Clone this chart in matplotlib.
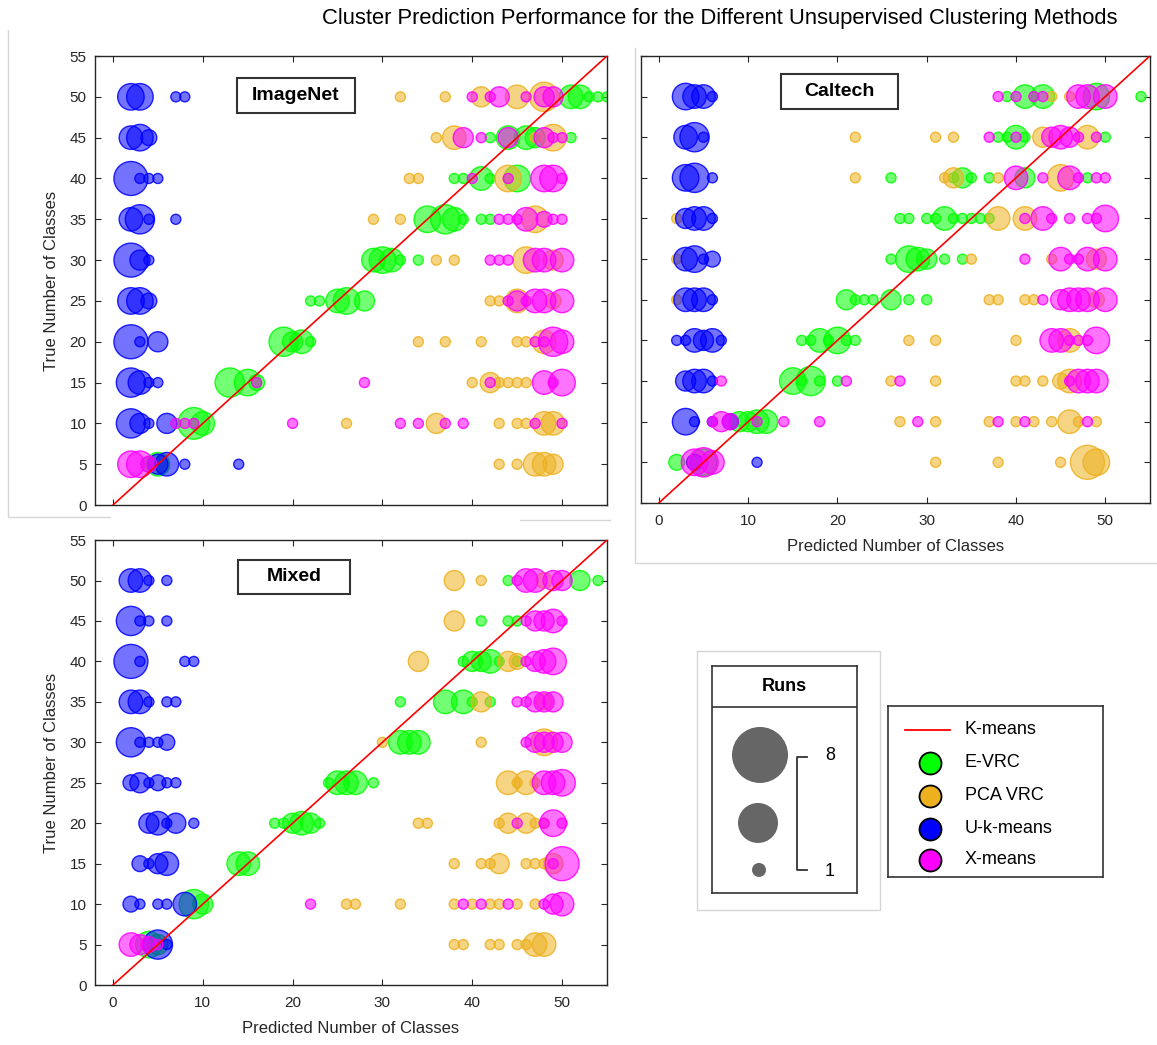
import numpy as np
import matplotlib
matplotlib.use('Agg')
import matplotlib.pyplot as plt
from matplotlib.patches import Rectangle
from matplotlib.lines import Line2D
from matplotlib.colors import to_rgba

plt.rcParams['font.family'] = ['Liberation Sans', 'DejaVu Sans']

# Datos: (clases reales, clases predichas, corridas)
imagenet_evrc = [(5, 4, 2), (5, 5, 4), (10, 9, 7), (10, 10, 4),
                 (15, 13, 6), (15, 15, 5), (15, 16, 2),
                 (20, 19, 6), (20, 20, 3), (20, 21, 4), (20, 22, 1),
                 (25, 22, 1), (25, 23, 1), (25, 25, 4), (25, 26, 5), (25, 28, 3),
                 (30, 29, 4), (30, 30, 5), (30, 31, 4), (30, 32, 1), (30, 34, 1),
                 (35, 35, 5), (35, 37, 6), (35, 38, 4), (35, 39, 1), (35, 41, 1), (35, 42, 1),
                 (40, 38, 1), (40, 39, 1), (40, 41, 4), (40, 42, 1), (40, 45, 5),
                 (45, 42, 1), (45, 44, 4), (45, 46, 4), (45, 47, 3), (45, 51, 1),
                 (50, 51, 4), (50, 52, 4), (50, 53, 1), (50, 54, 1), (50, 55, 1)]
imagenet_pca = [(5, 43, 1), (5, 45, 1), (5, 47, 4), (5, 48, 4), (5, 49, 3),
                (10, 26, 1), (10, 36, 3), (10, 43, 1), (10, 45, 1), (10, 46, 1), (10, 48, 4), (10, 49, 4),
                (15, 40, 1), (15, 42, 3), (15, 43, 1), (15, 44, 1), (15, 45, 1), (15, 46, 1),
                (20, 34, 1), (20, 37, 1), (20, 41, 1), (20, 45, 1), (20, 46, 1), (20, 48, 4),
                (25, 42, 1), (25, 43, 1), (25, 45, 4), (25, 49, 2),
                (30, 36, 1), (30, 38, 1), (30, 46, 5), (30, 49, 3),
                (35, 29, 1), (35, 32, 1), (35, 47, 5),
                (40, 33, 1), (40, 34, 1), (40, 44, 5),
                (45, 36, 1), (45, 38, 4), (45, 47, 1), (45, 49, 5),
                (50, 32, 1), (50, 37, 1), (50, 41, 3), (50, 45, 4), (50, 48, 6)]
imagenet_ukm = [(5, 5, 3), (5, 6, 4), (5, 8, 1), (5, 14, 1),
                (10, 2, 6), (10, 3, 3), (10, 4, 1), (10, 6, 3),
                (15, 2, 6), (15, 3, 4), (15, 4, 1), (15, 5, 1),
                (20, 2, 8), (20, 3, 1), (20, 5, 3),
                (25, 2, 5), (25, 3, 5), (25, 4, 2),
                (30, 2, 8), (30, 3, 3), (30, 4, 1),
                (35, 2, 4), (35, 3, 6), (35, 4, 1), (35, 7, 1),
                (40, 2, 8), (40, 3, 1), (40, 4, 1), (40, 5, 1),
                (45, 2, 4), (45, 3, 5), (45, 4, 2),
                (50, 2, 5), (50, 3, 5), (50, 7, 1), (50, 8, 1)]
imagenet_xm = [(5, 2, 5), (5, 3, 5), (5, 4, 2),
               (10, 7, 1), (10, 8, 1), (10, 9, 1), (10, 20, 1), (10, 32, 1), (10, 34, 1),
               (10, 37, 1), (10, 39, 1), (10, 47, 1), (10, 50, 1),
               (15, 16, 1), (15, 28, 1), (15, 42, 1), (15, 48, 4), (15, 49, 1), (15, 50, 5),
               (20, 47, 1), (20, 48, 1), (20, 49, 6), (20, 50, 4),
               (25, 44, 1), (25, 45, 3), (25, 46, 1), (25, 47, 4), (25, 48, 4), (25, 50, 4),
               (30, 42, 1), (30, 43, 1), (30, 44, 1), (30, 47, 4), (30, 48, 4), (30, 50, 4),
               (35, 43, 1), (35, 44, 1), (35, 45, 1), (35, 46, 4), (35, 48, 2), (35, 49, 1), (35, 50, 1),
               (40, 40, 1), (40, 44, 1), (40, 48, 5), (40, 49, 5), (40, 50, 1),
               (45, 39, 3), (45, 41, 1), (45, 44, 3), (45, 48, 3), (45, 49, 1), (45, 50, 1),
               (50, 40, 1), (50, 42, 1), (50, 43, 3), (50, 46, 1), (50, 48, 3), (50, 49, 3)]

caltech_evrc = [(5, 2, 2), (5, 5, 5),
                (10, 9, 3), (10, 10, 3), (10, 11, 4), (10, 12, 4),
                (15, 15, 5), (15, 16, 1), (15, 17, 6), (15, 18, 1), (15, 20, 1),
                (20, 16, 1), (20, 17, 1), (20, 18, 4), (20, 19, 1), (20, 20, 5), (20, 21, 1), (20, 22, 1),
                (25, 21, 3), (25, 22, 1), (25, 23, 1), (25, 24, 1), (25, 26, 3), (25, 28, 1), (25, 30, 1),
                (30, 26, 1), (30, 28, 5), (30, 29, 4), (30, 30, 3), (30, 32, 1), (30, 34, 1),
                (35, 27, 1), (35, 28, 1), (35, 30, 1), (35, 31, 1), (35, 32, 4), (35, 33, 1),
                (35, 34, 1), (35, 35, 1), (35, 36, 1), (35, 37, 1),
                (40, 26, 1), (40, 33, 1), (40, 34, 3), (40, 35, 1), (40, 37, 1), (40, 41, 3), (40, 48, 1),
                (45, 38, 1), (45, 39, 1), (45, 40, 4), (45, 41, 1), (45, 50, 1),
                (50, 39, 1), (50, 41, 4), (50, 43, 4), (50, 49, 5), (50, 54, 1)]
caltech_pca = [(5, 31, 1), (5, 38, 1), (5, 45, 1), (5, 48, 8), (5, 49, 5),
               (10, 27, 1), (10, 31, 1), (10, 37, 1), (10, 40, 1), (10, 42, 1), (10, 44, 1),
               (10, 46, 4), (10, 47, 1), (10, 49, 1),
               (15, 26, 1), (15, 31, 1), (15, 40, 1), (15, 41, 1), (15, 43, 1), (15, 45, 2), (15, 46, 4),
               (20, 28, 1), (20, 31, 1), (20, 40, 1), (20, 46, 4),
               (25, 2, 1), (25, 37, 1), (25, 38, 1), (25, 41, 1), (25, 42, 1), (25, 49, 2),
               (30, 2, 1), (30, 35, 1), (30, 44, 1), (30, 49, 3),
               (35, 2, 1), (35, 38, 4), (35, 41, 4),
               (40, 22, 1), (40, 32, 1), (40, 33, 3), (40, 38, 1), (40, 45, 5),
               (45, 22, 1), (45, 31, 1), (45, 33, 1), (45, 43, 3), (45, 48, 4),
               (50, 44, 1), (50, 46, 1)]
caltech_ukm = [(5, 4, 2), (5, 11, 1),
               (10, 3, 5), (10, 4, 1), (10, 6, 1), (10, 8, 2),
               (15, 3, 3), (15, 4, 4), (15, 5, 4), (15, 6, 1),
               (20, 2, 1), (20, 3, 1), (20, 4, 4), (20, 5, 3), (20, 6, 4), (20, 7, 1),
               (25, 3, 4), (25, 4, 4), (25, 5, 4), (25, 6, 1),
               (30, 3, 4), (30, 4, 5), (30, 5, 1), (30, 6, 2),
               (35, 3, 3), (35, 4, 4), (35, 5, 4), (35, 6, 1),
               (40, 3, 5), (40, 4, 6), (40, 6, 1),
               (45, 3, 4), (45, 4, 6), (45, 5, 1),
               (50, 3, 5), (50, 4, 4), (50, 5, 4), (50, 6, 1)]
caltech_xm = [(5, 4, 5), (5, 5, 6), (5, 6, 4),
              (10, 6, 1), (10, 7, 3), (10, 8, 2), (10, 11, 1), (10, 14, 1), (10, 18, 1),
              (10, 29, 1), (10, 38, 1), (10, 41, 1), (10, 48, 1),
              (15, 7, 1), (15, 21, 1), (15, 27, 1), (15, 46, 1), (15, 47, 4), (15, 48, 4), (15, 49, 4),
              (20, 44, 4), (20, 45, 4), (20, 46, 1), (20, 47, 1), (20, 48, 1), (20, 49, 5),
              (25, 43, 1), (25, 45, 3), (25, 46, 4), (25, 47, 4), (25, 48, 4), (25, 50, 4),
              (30, 41, 1), (30, 45, 4), (30, 46, 1), (30, 47, 1), (30, 48, 4), (30, 50, 4),
              (35, 41, 1), (35, 43, 4), (35, 44, 1), (35, 46, 1), (35, 48, 1), (35, 49, 1), (35, 50, 5),
              (40, 40, 4), (40, 43, 1), (40, 46, 4), (40, 47, 1), (40, 49, 1), (40, 50, 1),
              (45, 37, 1), (45, 40, 1), (45, 44, 3), (45, 45, 4), (45, 46, 3), (45, 47, 1), (45, 49, 1),
              (50, 38, 1), (50, 40, 1), (50, 42, 1), (50, 43, 1), (50, 47, 4), (50, 48, 4), (50, 50, 4)]

mixed_evrc = [(5, 4, 5), (5, 5, 3), (10, 9, 6), (10, 10, 3), (15, 14, 4), (15, 15, 4),
              (20, 18, 1), (20, 19, 1), (20, 20, 3), (20, 21, 4), (20, 22, 3), (20, 23, 1),
              (25, 24, 1), (25, 25, 4), (25, 26, 4), (25, 27, 4), (25, 29, 1),
              (30, 32, 4), (30, 33, 4), (30, 34, 4),
              (35, 32, 1), (35, 37, 4), (35, 39, 4), (35, 40, 1), (35, 42, 1),
              (40, 39, 1), (40, 40, 3), (40, 41, 3), (40, 42, 4), (40, 43, 1), (40, 45, 1),
              (45, 41, 1), (45, 44, 1), (45, 45, 1),
              (50, 44, 1), (50, 52, 3), (50, 54, 1)]
mixed_pca = [(5, 38, 1), (5, 39, 1), (5, 42, 1), (5, 43, 1), (5, 45, 1), (5, 46, 1), (5, 47, 4), (5, 48, 4),
             (10, 26, 1), (10, 27, 1), (10, 32, 1), (10, 38, 1), (10, 40, 1), (10, 42, 1),
             (10, 43, 1), (10, 45, 1), (10, 47, 1),
             (15, 38, 1), (15, 41, 1), (15, 42, 1), (15, 43, 3), (15, 46, 1), (15, 47, 1), (15, 48, 1), (15, 49, 3),
             (20, 34, 1), (20, 35, 1), (20, 43, 1), (20, 44, 3), (20, 46, 3), (20, 47, 1), (20, 48, 1),
             (25, 44, 4), (25, 45, 1), (25, 46, 4), (25, 47, 1),
             (30, 30, 1), (30, 41, 1), (30, 48, 5),
             (35, 41, 3), (35, 48, 2),
             (40, 34, 3), (40, 44, 3), (40, 45, 2),
             (45, 38, 3),
             (50, 38, 3), (50, 41, 1), (50, 48, 2)]
mixed_ukm = [(5, 5, 6), (5, 6, 1),
             (10, 2, 2), (10, 3, 1), (10, 5, 1), (10, 6, 1), (10, 8, 4),
             (15, 3, 2), (15, 4, 1), (15, 5, 3), (15, 6, 4),
             (20, 4, 3), (20, 5, 4), (20, 6, 1), (20, 7, 3), (20, 9, 1),
             (25, 2, 2), (25, 3, 3), (25, 4, 1), (25, 5, 2), (25, 6, 1), (25, 7, 1),
             (30, 2, 6), (30, 3, 1), (30, 4, 1), (30, 5, 1), (30, 6, 2),
             (35, 2, 4), (35, 3, 4), (35, 4, 1), (35, 6, 1), (35, 7, 1),
             (40, 2, 8), (40, 3, 1), (40, 8, 1), (40, 9, 1),
             (45, 2, 6), (45, 3, 1), (45, 4, 1), (45, 6, 1),
             (50, 2, 4), (50, 3, 4), (50, 4, 1), (50, 6, 1)]
mixed_xm = [(5, 2, 4), (5, 3, 3), (5, 4, 2), (5, 5, 1),
            (10, 22, 1), (10, 39, 1), (10, 41, 1), (10, 44, 1), (10, 48, 1), (10, 49, 3), (10, 50, 4),
            (15, 49, 1), (15, 50, 8),
            (20, 45, 1), (20, 48, 1), (20, 49, 5), (20, 50, 1),
            (25, 48, 4), (25, 49, 4), (25, 50, 5),
            (30, 46, 1), (30, 47, 3), (30, 48, 3), (30, 49, 3), (30, 50, 3),
            (35, 45, 1), (35, 46, 1), (35, 47, 3), (35, 48, 3), (35, 49, 3),
            (40, 46, 1), (40, 47, 3), (40, 48, 4), (40, 49, 5),
            (45, 46, 1), (45, 47, 3), (45, 48, 3), (45, 49, 4), (45, 50, 1),
            (50, 45, 1), (50, 46, 4), (50, 47, 4), (50, 49, 3), (50, 50, 3)]

metodos = ['E-VRC', 'PCA VRC', 'U-k-means', 'X-means']
colores = ['#00ff00', '#edb120', '#0000ff', '#ff00ff']
gris = '#262626'


# Area del marcador proporcional al numero de corridas
def tam(runs):
    return 52 + 78 * (np.asarray(runs) - 1)


def panel(ax, series, nombre, caja, xlab=True, ylab=True):
    for datos, color in zip(series, colores):
        d = np.array(datos)
        ax.scatter(d[:, 1], d[:, 0], s=tam(d[:, 2]), facecolors=to_rgba(color, 0.55),
                   edgecolors=to_rgba(color, 0.85), linewidths=1, zorder=2)
    ax.plot([0, 55], [0, 55], color='red', lw=1.2, zorder=3)
    ax.set_xlim(-2, 55)
    ax.set_ylim(0, 55)
    ax.set_xticks(range(0, 51, 10))
    ax.set_yticks(range(0, 56, 5))
    ax.tick_params(direction='in', top=True, right=True, length=4, colors=gris,
                   labelsize=11, labelbottom=xlab, labelleft=ylab)
    ax.tick_params(axis='x', pad=8)
    ax.tick_params(axis='y', pad=6)
    for s in ax.spines.values():
        s.set_color(gris)
        s.set_linewidth(1)
    if xlab:
        ax.set_xlabel('Predicted Number of Classes', fontsize=12, color=gris, labelpad=8)
    if ylab:
        ax.set_ylabel('True Number of Classes', fontsize=12, color=gris, labelpad=8)
    x0, y0, w, h = caja
    ax.add_patch(Rectangle((x0, y0), w, h, transform=ax.transAxes, fill=True,
                           facecolor='white', edgecolor='#333333', lw=1.5, zorder=4))
    ax.text(x0 + w / 2, y0 + h / 2, nombre, transform=ax.transAxes, ha='center',
            va='center', fontsize=14, fontweight='bold', zorder=5)


fig = plt.figure(figsize=(11.57, 10.45), dpi=100)


# Bordes tenues de las capturas originales (pixeles de la figura)
def borde(xs, ys):
    fig.add_artist(Line2D([x / 1157 for x in xs], [1 - y / 1045 for y in ys],
                          color='#d6d6d6', lw=1))


borde([8, 8, 110], [30, 517, 517])
borde([520, 610], [520, 520])
borde([635, 635, 1157], [48, 563, 563])
borde([697, 697, 880, 880, 697], [651, 910, 910, 651, 651])

ax1 = fig.add_axes([0.0821, 0.5167, 0.4425, 0.4297])
panel(ax1, [imagenet_evrc, imagenet_pca, imagenet_ukm, imagenet_xm], 'ImageNet',
      (0.277, 0.873, 0.230, 0.078), xlab=False)

ax2 = fig.add_axes([0.554, 0.5187, 0.4399, 0.4278])
panel(ax2, [caltech_evrc, caltech_pca, caltech_ukm, caltech_xm], 'Caltech',
      (0.275, 0.881, 0.230, 0.078), ylab=False)

ax3 = fig.add_axes([0.0821, 0.0574, 0.4425, 0.4258])
panel(ax3, [mixed_evrc, mixed_pca, mixed_ukm, mixed_xm], 'Mixed',
      (0.279, 0.879, 0.219, 0.076))

fig.text(0.622, 0.982, 'Cluster Prediction Performance for the Different Unsupervised Clustering Methods',
         ha='center', va='center', fontsize=15.8)

# Leyenda de tamanos (coordenadas en pixeles dentro del recuadro)
axr = fig.add_axes([0.6154, 0.1455, 0.1253, 0.2172])
axr.set_xlim(0, 145)
axr.set_ylim(227, 0)
axr.set_xticks([])
axr.set_yticks([])
for s in axr.spines.values():
    s.set_color('#333333')
    s.set_linewidth(1.2)
axr.axhline(41, color='#333333', lw=1.2)
axr.text(72, 21, 'Runs', ha='center', va='center', fontsize=13, fontweight='bold')
runs_x = [48, 46, 47]
runs_y = [89, 157, 204]
runs_d = [56, 40, 14]
axr.scatter(runs_x, runs_y, s=[(d * 0.72) ** 2 for d in runs_d], color='#5e5e5e', alpha=0.95, lw=0)
axr.plot([95, 85, 85, 95], [91, 91, 204, 204], color='#333333', lw=1.3)
axr.text(118, 90, '8', ha='center', va='center', fontsize=13)
axr.text(118, 206, '1', ha='center', va='center', fontsize=13)

# Leyenda de metodos
axl = fig.add_axes([0.7675, 0.1608, 0.1858, 0.1636])
axl.set_xlim(0, 215)
axl.set_ylim(171, 0)
axl.set_xticks([])
axl.set_yticks([])
for s in axl.spines.values():
    s.set_color('#333333')
    s.set_linewidth(1.2)
axl.plot([17, 62], [24, 24], color='red', lw=1.3)
axl.text(77, 24, 'K-means', va='center', fontsize=13)
for i, (m, c) in enumerate(zip(metodos, colores)):
    yy = [57, 90, 123, 154][i]
    axl.scatter([42], [yy], s=(22 * 0.72) ** 2, color=c, edgecolors='black', linewidths=1.3)
    axl.text(77, yy, m, va='center', fontsize=13)

fig.savefig('out.png', dpi=100)
